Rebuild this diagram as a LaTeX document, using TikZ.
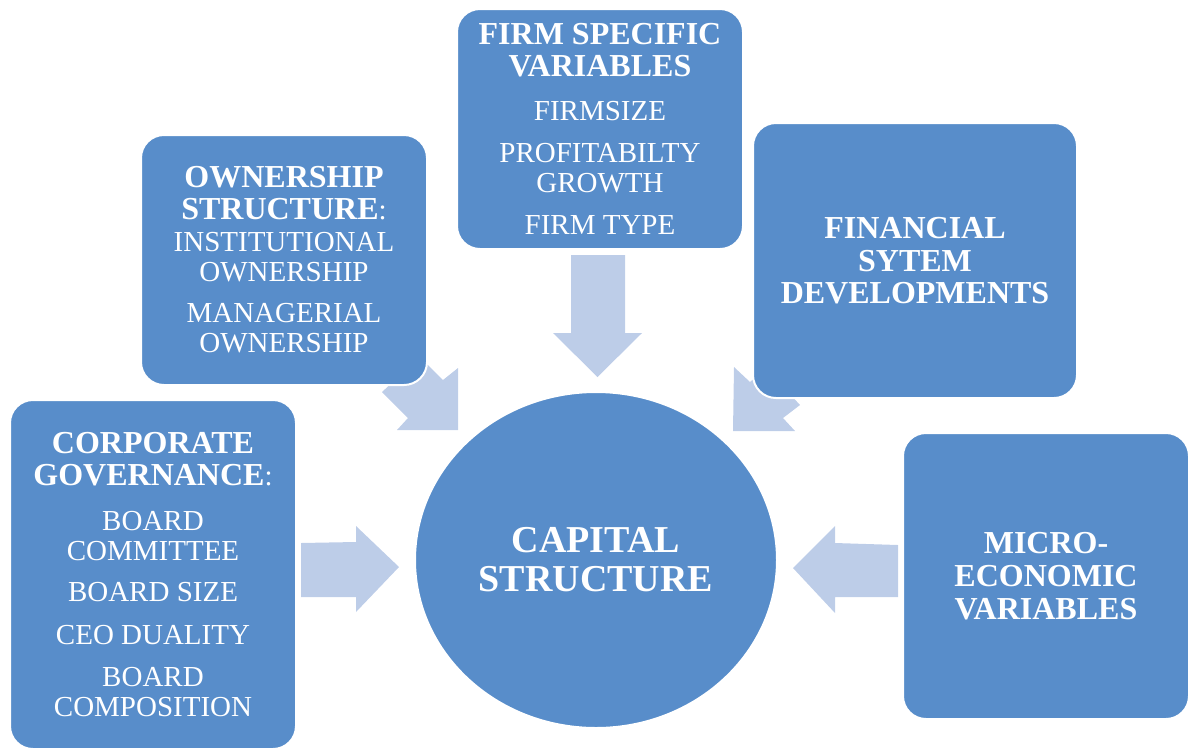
\documentclass[tikz,border=0pt]{standalone}
\usepackage{fontspec}
\setmainfont{Liberation Serif}
\usepackage{tikz}
\usetikzlibrary{shapes.geometric}
\definecolor{boxblue}{RGB}{88,141,202}
\definecolor{arrowblue}{RGB}{189,205,232}
\newcommand{\boxhead}[1]{{\fontsize{16}{16.5}\selectfont\bfseries #1}}

\begin{document}
\begin{tikzpicture}[line cap=round,line join=round,x=0.5pt,y=-0.5pt,
  box/.style={fill=boxblue,draw=white,line width=1pt,rounded corners=11.5pt,
    text=white,align=center,inner sep=0pt,font=\fontsize{14.5}{15}\selectfont},
  hub/.style={ellipse,fill=boxblue,draw=white,line width=1pt,text=white,
    align=center,inner sep=0pt,font=\fontsize{19}{19.5}\selectfont\bfseries},
  blockarrow/.style={fill=arrowblue}]
\useasboundingbox (0,0) rectangle (1194,751);
%
% block arrows (drawn first, the boxes cover their ends)
\fill[blockarrow] (571,255)--(625,255)--(625,333)--(642,333)--(597.5,377)--(553,333)--(571,333)--cycle;
\fill[blockarrow] (301,543)--(356,542)--(356,526)--(399,567)--(356,612)--(356,597)--(301,597)--cycle;
\fill[blockarrow] (898,545)--(835,543)--(835,526)--(793,568)--(835,613)--(835,597)--(898,597)--cycle;
\fill[blockarrow] (382,392)--(395,380)--(425,362)--(443,380)--(458,368)--(458,430)--(397,430)--(408,418)--cycle;
\fill[blockarrow] (734,367)--(750,382)--(770,365)--(788,392)--(800,405)--(783,418)--(795,431)--(733,431)--cycle;
%
% boxes
\node[box,minimum width=143pt,minimum height=120pt] (firm) at (600,129)
  {\boxhead{FIRM SPECIFIC}\\[1.2pt]\boxhead{VARIABLES}\\[6.7pt]FIRMSIZE\\[6.3pt]PROFITABILTY\\GROWTH\\[5.9pt]FIRM TYPE};
\node[box,minimum width=143pt,minimum height=125pt] (own) at (284,260)
  {\boxhead{OWNERSHIP}\\[0.85pt]\boxhead{STRUCTURE}:\\[0.85pt]INSTITUTIONAL\\OWNERSHIP\\[5.8pt]MANAGERIAL\\OWNERSHIP};
\node[box,minimum width=162pt,minimum height=137.5pt] (fin) at (915,260.5)
  {\boxhead{FINANCIAL}\\[1.5pt]\boxhead{SYTEM}\\[1.2pt]\boxhead{DEVELOPMENTS}};
\node[box,minimum width=143pt,minimum height=174.5pt] (corp) at (153,574.5)
  {\boxhead{CORPORATE}\\[1.2pt]\boxhead{GOVERNANCE}:\\[7.2pt]BOARD\\COMMITTEE\\[5.8pt]BOARD SIZE\\[6.5pt]CEO DUALITY\\[5.8pt]BOARD\\COMPOSITION};
\node[box,minimum width=143pt,minimum height=143pt] (micro) at (1046,576)
  {\boxhead{MICRO-}\\[1.5pt]\boxhead{ECONOMIC}\\[1.3pt]\boxhead{VARIABLES}};
%
% centre
\node[hub,minimum width=181pt,minimum height=168pt] (capital) at (596,560) {CAPITAL\\STRUCTURE};
\end{tikzpicture}
\end{document}
